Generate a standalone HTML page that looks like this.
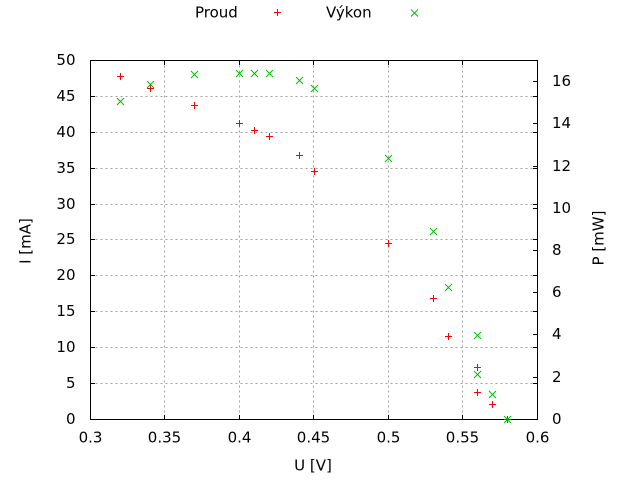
<!DOCTYPE html>
<html>
<head>
<meta charset="utf-8">
<style>
html,body{margin:0;padding:0;background:#fff;}
svg{display:block;}
text{font-family:"DejaVu Sans","Liberation Sans",sans-serif;font-size:15px;fill:#000;}
</style>
</head>
<body>
<svg width="640" height="480" viewBox="0 0 640 480" xmlns="http://www.w3.org/2000/svg">
<rect x="0" y="0" width="640" height="480" fill="#fff"/>

<!-- grid -->
<g stroke="#a0a0a0" stroke-width="1" stroke-dasharray="2,3" shape-rendering="crispEdges" fill="none">
  <line x1="164.5" y1="60.5" x2="164.5" y2="419.5"/>
  <line x1="239.5" y1="60.5" x2="239.5" y2="419.5"/>
  <line x1="313.5" y1="60.5" x2="313.5" y2="419.5"/>
  <line x1="388.5" y1="60.5" x2="388.5" y2="419.5"/>
  <line x1="462.5" y1="60.5" x2="462.5" y2="419.5"/>
  <line x1="90.5" y1="383.5" x2="537.5" y2="383.5"/>
  <line x1="90.5" y1="347.5" x2="537.5" y2="347.5"/>
  <line x1="90.5" y1="311.5" x2="537.5" y2="311.5"/>
  <line x1="90.5" y1="275.5" x2="537.5" y2="275.5"/>
  <line x1="90.5" y1="239.5" x2="537.5" y2="239.5"/>
  <line x1="90.5" y1="204.5" x2="537.5" y2="204.5"/>
  <line x1="90.5" y1="168.5" x2="537.5" y2="168.5"/>
  <line x1="90.5" y1="132.5" x2="537.5" y2="132.5"/>
  <line x1="90.5" y1="96.5" x2="537.5" y2="96.5"/>
</g>

<!-- ticks -->
<g stroke="#000" stroke-width="1" shape-rendering="crispEdges">
  <!-- x bottom & top -->
  <path d="M164.5 419.5V415M239.5 419.5V415M313.5 419.5V415M388.5 419.5V415M462.5 419.5V415
           M164.5 60.5V65M239.5 60.5V65M313.5 60.5V65M388.5 60.5V65M462.5 60.5V65"/>
  <!-- y1 left & mirrored right -->
  <path d="M90.5 383.5H95M90.5 347.5H95M90.5 311.5H95M90.5 275.5H95M90.5 239.5H95M90.5 204.5H95M90.5 168.5H95M90.5 132.5H95M90.5 96.5H95
           M537.5 383.5H533M537.5 347.5H533M537.5 311.5H533M537.5 275.5H533M537.5 239.5H533M537.5 204.5H533M537.5 168.5H533M537.5 132.5H533M537.5 96.5H533"/>
  <!-- y2 right -->
  <path d="M537.5 377.5H533M537.5 334.5H533M537.5 292.5H533M537.5 250.5H533M537.5 208.5H533M537.5 166.5H533M537.5 123.5H533M537.5 81.5H533"/>
  <!-- border -->
  <rect x="90.5" y="60.5" width="447" height="359" fill="none"/>
</g>

<!-- left tick labels -->
<g text-anchor="end">
  <text x="75.5" y="424">0</text>
  <text x="75.5" y="388">5</text>
  <text x="75.5" y="352">10</text>
  <text x="75.5" y="316">15</text>
  <text x="75.5" y="280">20</text>
  <text x="75.5" y="244">25</text>
  <text x="75.5" y="209">30</text>
  <text x="75.5" y="173">35</text>
  <text x="75.5" y="137">40</text>
  <text x="75.5" y="101">45</text>
  <text x="75.5" y="65">50</text>
</g>

<!-- right tick labels -->
<g text-anchor="start">
  <text x="552" y="424">0</text>
  <text x="552" y="382">2</text>
  <text x="552" y="339">4</text>
  <text x="552" y="297">6</text>
  <text x="552" y="255">8</text>
  <text x="552" y="213">10</text>
  <text x="552" y="171">12</text>
  <text x="552" y="128">14</text>
  <text x="552" y="86">16</text>
</g>

<!-- bottom tick labels -->
<g text-anchor="middle">
  <text x="90.5" y="442.5">0.3</text>
  <text x="164.5" y="442.5">0.35</text>
  <text x="239.5" y="442.5">0.4</text>
  <text x="313.5" y="442.5">0.45</text>
  <text x="388.5" y="442.5">0.5</text>
  <text x="462.5" y="442.5">0.55</text>
  <text x="537.5" y="442.5">0.6</text>
</g>

<!-- axis labels -->
<text x="313" y="470.5" text-anchor="middle">U [V]</text>
<text transform="translate(30.5,241) rotate(-90)" text-anchor="middle">I [mA]</text>
<text transform="translate(603.5,238) rotate(-90)" text-anchor="middle">P [mW]</text>

<!-- legend -->
<text x="195" y="17.5">Proud</text>
<path d="M274 12.5H281M277.5 9V16" stroke="#ff0000" stroke-width="1" shape-rendering="crispEdges"/>
<text x="326" y="17.5">Výkon</text>
<path d="M411 9.5L418 16.5M411 16.5L418 9.5" stroke="#00c000" stroke-width="1"/>

<!-- Proud markers (+) -->
<g stroke="#ff0000" stroke-width="1" shape-rendering="crispEdges" fill="none">
  <path d="M117 76.5h7M120.5 73v7"/>
  <path d="M147 88.5h7M150.5 85v7"/>
  <path d="M191 105.5h7M194.5 102v7"/>
  <path d="M236 123.5h7M239.5 120v7"/>
  <path d="M251 130.5h7M254.5 127v7"/>
  <path d="M266 136.5h7M269.5 133v7"/>
  <path d="M296 155.5h7M299.5 152v7"/>
  <path d="M311 171.5h7M314.5 168v7"/>
  <path d="M385 243.5h7M388.5 240v7"/>
  <path d="M430 298.5h7M433.5 295v7"/>
  <path d="M445 336.5h7M448.5 333v7"/>
  <path d="M474 367.5h7M477.5 364v7"/>
  <path d="M474 392.5h7M477.5 389v7"/>
  <path d="M489 404.5h7M492.5 401v7"/>
  <path d="M504 419.5h7M507.5 416v7"/>
</g>

<!-- Výkon markers (x) -->
<g stroke="#00c000" stroke-width="1" fill="none">
  <path d="M117 98l7 7M117 105l7 -7"/>
  <path d="M147 81l7 7M147 88l7 -7"/>
  <path d="M191 71l7 7M191 78l7 -7"/>
  <path d="M236 70l7 7M236 77l7 -7"/>
  <path d="M251 70l7 7M251 77l7 -7"/>
  <path d="M266 70l7 7M266 77l7 -7"/>
  <path d="M296 77l7 7M296 84l7 -7"/>
  <path d="M311 85l7 7M311 92l7 -7"/>
  <path d="M385 155l7 7M385 162l7 -7"/>
  <path d="M430 228l7 7M430 235l7 -7"/>
  <path d="M445 284l7 7M445 291l7 -7"/>
  <path d="M474 332l7 7M474 339l7 -7"/>
  <path d="M474 371l7 7M474 378l7 -7"/>
  <path d="M489 391l7 7M489 398l7 -7"/>
  <path d="M504 416l7 7M504 423l7 -7"/>
</g>
</svg>
</body>
</html>
